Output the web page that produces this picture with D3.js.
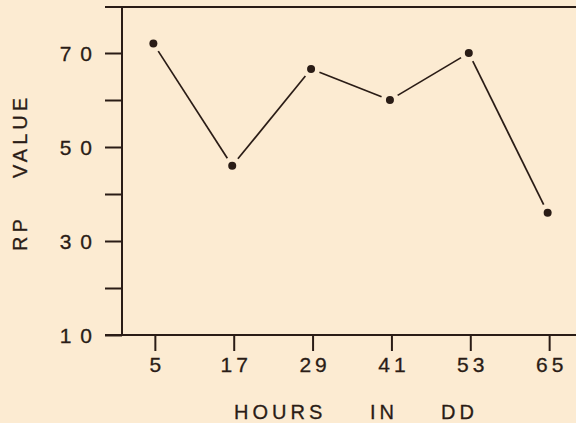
<!DOCTYPE html>
<html>
<head>
<meta charset="utf-8">
<script src="https://cdn.jsdelivr.net/npm/d3@7"></script>
<style>
  html, body { margin: 0; padding: 0; background: #fcebd2; }
  svg { display: block; }
  text { font-family: "Liberation Sans", Arial, sans-serif; fill: #2a1c16; }
</style>
</head>
<body>
<svg id="chart" width="576" height="423"></svg>
<script>
// RP value observed at each sampling time (hours in constant darkness)
const hours = [5, 17, 29, 41, 53, 65];
const rpValues = [72, 46, 66.6, 60, 70, 36];
const yTickValues = [10, 20, 30, 40, 50, 60, 70];
const yTickLabels = {10: "10", 30: "30", 50: "50", 70: "70"};

const ink = "#2a1c16";
const svg = d3.select("#chart");

const x = d3.scaleLinear().domain([0, 70]).range([122, 582]);
const y = d3.scaleLinear().domain([10, 80]).range([335, 6]);

// frame: top rule, left axis, bottom axis
svg.append("line").attr("x1", 105).attr("x2", 576).attr("y1", 7).attr("y2", 7)
  .attr("stroke", ink).attr("stroke-width", 2);

const yAxis = d3.axisLeft(y).tickValues(yTickValues).tickSize(17).tickPadding(4)
  .tickFormat(d => yTickLabels[d] || "");
const gy = svg.append("g").attr("transform", `translate(${x(0)},0)`).call(yAxis);
gy.select(".domain").remove();
gy.selectAll(".tick line").attr("stroke", ink).attr("stroke-width", 2);
gy.selectAll(".tick text").attr("font-size", 21).attr("letter-spacing", 9)
  .attr("fill", ink).attr("stroke", ink).attr("stroke-width", 0.3).attr("dy", "0.36em");
svg.append("line").attr("x1", x(0)).attr("x2", x(0)).attr("y1", 7).attr("y2", 335)
  .attr("stroke", ink).attr("stroke-width", 2);

const xAxis = d3.axisBottom(x).tickValues(hours).tickSize(16).tickPadding(6)
  .tickFormat(d3.format("d"));
const gx = svg.append("g").attr("transform", `translate(0,${y(10)})`).call(xAxis);
gx.select(".domain").remove();
gx.selectAll(".tick line").attr("stroke", ink).attr("stroke-width", 2);
gx.selectAll(".tick text").attr("font-size", 21).attr("letter-spacing", 4)
  .attr("dx", 2).attr("fill", ink).attr("stroke", ink).attr("stroke-width", 0.3);
svg.append("line").attr("x1", 105).attr("x2", 576).attr("y1", y(10)).attr("y2", y(10))
  .attr("stroke", ink).attr("stroke-width", 2);

// connecting segments, stopped short of each dot
const pts = hours.map((h, i) => [x(h) - 1.5, y(rpValues[i])]);
const gap = 9;
const segs = d3.pairs(pts).map(([a, b]) => {
  const dx = b[0] - a[0], dy = b[1] - a[1], len = Math.hypot(dx, dy);
  const ux = dx / len, uy = dy / len;
  return [a[0] + ux * gap, a[1] + uy * gap, b[0] - ux * gap, b[1] - uy * gap];
});
svg.append("g").selectAll("line").data(segs).join("line")
  .attr("x1", d => d[0]).attr("y1", d => d[1])
  .attr("x2", d => d[2]).attr("y2", d => d[3])
  .attr("stroke", ink).attr("stroke-width", 1.7);

svg.append("g").selectAll("circle").data(pts).join("circle")
  .attr("cx", d => d[0]).attr("cy", d => d[1]).attr("r", 4)
  .attr("fill", ink);

// axis titles
const titleStyle = sel => sel.attr("font-size", 20).attr("letter-spacing", 4)
  .attr("stroke", ink).attr("stroke-width", 0.3);
const yTitle = svg.append("g").attr("transform", "translate(27,0) rotate(-90)");
yTitle.append("text").attr("x", -251).attr("y", 0).call(titleStyle).text("RP");
yTitle.append("text").attr("x", -178).attr("y", 0).call(titleStyle).text("VALUE");

svg.append("text").attr("x", 234).attr("y", 419).call(titleStyle).text("HOURS");
svg.append("text").attr("x", 370).attr("y", 419).call(titleStyle).text("IN");
svg.append("text").attr("x", 441).attr("y", 419).call(titleStyle).text("DD");
</script>
</body>
</html>
